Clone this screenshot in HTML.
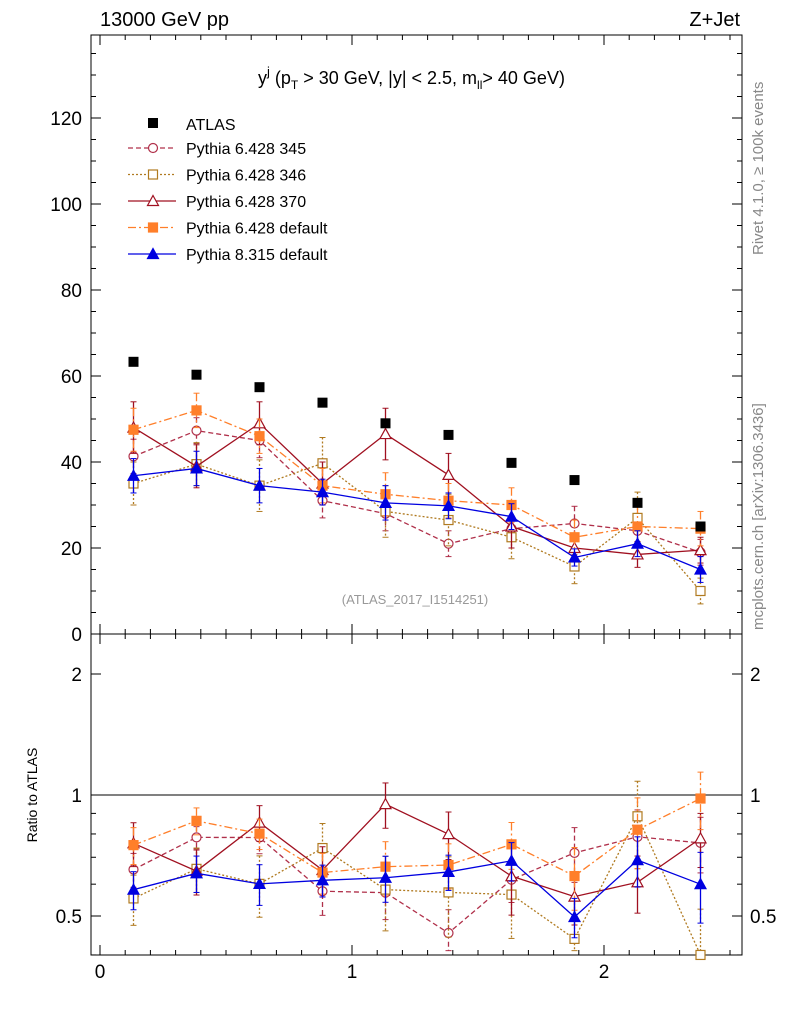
<!DOCTYPE html>
<html><head><meta charset="utf-8"><style>
body{margin:0;background:#fff;}
svg{font-family:"Liberation Sans",sans-serif;}
</style></head><body>
<svg id="c" width="786" height="1024" viewBox="0 0 786 1024">
<text x="100" y="26" font-size="20">13000 GeV pp</text>
<text x="740" y="26" font-size="20" text-anchor="end">Z+Jet</text>
<text x="258" y="84" font-size="18">y<tspan dy="-8" font-size="13">j</tspan><tspan dy="8"> (p</tspan><tspan dy="5" font-size="12">T</tspan><tspan dy="-5"> &gt; 30 GeV, |y| &lt; 2.5, m</tspan><tspan dy="5" font-size="12">ll</tspan><tspan dy="-5">&gt; 40 GeV)</tspan></text>
<text x="415" y="604" font-size="13" fill="#999" text-anchor="middle">(ATLAS_2017_I1514251)</text>
<text transform="translate(763,255) rotate(-90)" font-size="15" fill="#888">Rivet 4.1.0, ≥ 100k events</text>
<text transform="translate(763,630) rotate(-90)" font-size="15" fill="#888">mcplots.cern.ch [arXiv:1306.3436]</text>
<text transform="translate(37,795) rotate(-90)" font-size="14" text-anchor="middle">Ratio to ATLAS</text>
<g id="axes"></g><g id="marks"></g><g id="legend"></g>
</svg>
<script>
const bins=[0.125,0.375,0.625,0.875,1.125,1.375,1.625,1.875,2.125,2.375];
const atlas=[63.3,60.3,57.4,53.8,49,46.3,39.8,35.8,30.5,25];
const p345=[41.3,47.3,45,31,28,21,24.5,25.7,24,19];
const p346=[35,39.5,34.5,39.7,28.5,26.5,22.5,15.7,27,10];
const p370=[48,39,49,35,46.5,37,25,20,18.5,19.5];
const pdef=[47.5,52,46,34.5,32.5,31,30,22.5,25,24.5];
const p8=[36.8,38.5,34.5,33,30.5,29.8,27.3,17.8,21,15];
const e345=[4,3,4,4,4,3,3,4,4,3];
const e346=[5,5,6,6,6,6,5,4,6,3];
const e370=[6,5,5,5,6,5,5,3,3,3];
const edef=[5,4,4,4,5,4,4,4,5,4];
const e8=[4,4,4,3,4,3,3,2,3,3];
const yTicks=[0,20,40,60,80,100,120];
const rTicks=[0.5,1,2];
const xTicks=[0,1,2];
const NS="http://www.w3.org/2000/svg";
const X0=91,X1=742,Y0=35,Y1=634,R1=955;
const sxa=v=>100+252*v, sx=v=>102+252*v, sy=v=>634-4.3*v, sr=r=>795-121*Math.log2(r);
function mk(t,a,p){const e=document.createElementNS(NS,t);for(const k in a)e.setAttribute(k,a[k]);(p||document.getElementById('marks')).appendChild(e);return e;}
const ax=document.getElementById('axes');
let f=mk('rect',{x:X0,y:Y0,width:X1-X0,height:Y1-Y0,fill:'none',stroke:'#000','stroke-width':1},ax);

f=mk('rect',{x:X0,y:Y1,width:X1-X0,height:R1-Y1,fill:'none',stroke:'#000','stroke-width':1},ax);

let l=mk('line',{x1:X0,x2:X1,y1:sr(1),y2:sr(1),stroke:'#000'},ax);

for(let v=0;v<=135;v+=5){const y=sy(v);if(y<Y0)break;const L=v%20==0?10:5;
mk('line',{x1:X0,x2:X0+L,y1:y,y2:y,stroke:'#000'},ax);mk('line',{x1:X1,x2:X1-L,y1:y,y2:y,stroke:'#000'},ax);}
yTicks.forEach(v=>{const t=mk('text',{x:82,y:sy(v)+7,'font-size':19,'text-anchor':'end'},ax);t.textContent=v;
});
[0.4,0.5,0.6,0.7,0.8,0.9,1,2].forEach(r=>{const y=sr(r);const L=rTicks.includes(r)?10:5;
mk('line',{x1:X0,x2:X0+L,y1:y,y2:y,stroke:'#000'},ax);mk('line',{x1:X1,x2:X1-L,y1:y,y2:y,stroke:'#000'},ax);});
rTicks.forEach(r=>{[[82,'end'],[750,'start']].forEach(([x,a])=>{const t=mk('text',{x:x,y:sr(r)+7,'font-size':19,'text-anchor':a},ax);t.textContent=r;
});});
for(let v=0;v<=2.55;v+=0.1){const x=sxa(v);const L=Math.abs(v-Math.round(v))<1e-6?10:5;
[[Y0,1],[Y1,-1],[Y1,1],[R1,-1]].forEach(([y,d])=>mk('line',{x1:x,x2:x,y1:y,y2:y+d*L,stroke:'#000'},ax));}
xTicks.forEach(v=>{const t=mk('text',{x:sxa(v),y:978,'font-size':19,'text-anchor':'middle'},ax);t.textContent=v;
});
function marker(x,y,shape,col,fill,g){
 if(shape=='sq')mk('rect',{x:x-4.5,y:y-4.5,width:9,height:9,fill:fill?col:'#fff',stroke:col,'stroke-width':1.2},g);
 else if(shape=='ci')mk('circle',{cx:x,cy:y,r:4.5,fill:'#fff',stroke:col,'stroke-width':1.2},g);
 else mk('path',{d:`M${x},${y-5.5}L${x+5.5},${y+4.5}L${x-5.5},${y+4.5}Z`,fill:fill?col:'#fff',stroke:col,'stroke-width':1.2},g);}
const series=[
 {n:'Pythia 6.428 345',d:p345,e:e345,c:'#b0304a',dash:'5,3',s:'ci',f:false,k:'p345'},
 {n:'Pythia 6.428 346',d:p346,e:e346,c:'#b07a20',dash:'2,2',s:'sq',f:false,k:'p346'},
 {n:'Pythia 6.428 370',d:p370,e:e370,c:'#a01020',dash:'',s:'tr',f:false,k:'p370'},
 {n:'Pythia 6.428 default',d:pdef,e:edef,c:'#ff7f2a',dash:'8,3,2,3',s:'sq',f:true,k:'pdef'},
 {n:'Pythia 8.315 default',d:p8,e:e8,c:'#0000e0',dash:'',s:'tr',f:true,k:'p8'}];
series.forEach(S=>{
 [[sy,S.d,S.e,'main'],[sr,S.d.map((v,i)=>v/atlas[i]),S.e.map((v,i)=>v/atlas[i]),'ratio']].forEach(([fy,vals,errs,pn])=>{
  const g=mk('g',{});
  const pts=bins.map((b,i)=>sx(b)+','+fy(vals[i])).join(' ');
  mk('polyline',{points:pts,fill:'none',stroke:S.c,'stroke-width':1.3,'stroke-dasharray':S.dash},g);
  bins.forEach((b,i)=>{const x=sx(b);const y1=fy(vals[i]+errs[i]),y2=fy(Math.max(vals[i]-errs[i],0.41));
   mk('line',{x1:x,x2:x,y1:y1,y2:y2,stroke:S.c,'stroke-width':1.3,'stroke-dasharray':S.dash},g);
   mk('line',{x1:x-3,x2:x+3,y1:y1,y2:y1,stroke:S.c},g);mk('line',{x1:x-3,x2:x+3,y1:y2,y2:y2,stroke:S.c},g);
   const m=mk('g',{},g);marker(x,fy(vals[i]),S.s,S.c,S.f,m);
   });
 });});
const ga=mk('g',{});
bins.forEach((b,i)=>{const r=mk('rect',{x:sx(b)-5,y:sy(atlas[i])-5,width:10,height:10,fill:'#000'},ga);
});
const lg=document.getElementById('legend');

let e=mk('g',{},lg);
mk('rect',{x:148,y:118,width:10,height:10,fill:'#000'},e);
let t=mk('text',{x:186,y:130,'font-size':16},e);t.textContent='ATLAS';
series.forEach((S,i)=>{const y=148+i*26.5;const g=mk('g',{},lg);
 
 mk('line',{x1:128,x2:176,y1:y,y2:y,stroke:S.c,'stroke-width':1.3,'stroke-dasharray':S.dash},g);
 marker(153,y,S.s,S.c,S.f,g);
 const tx=mk('text',{x:186,y:y+6,'font-size':16},g);tx.textContent=S.n;});
</script>
</body></html>
